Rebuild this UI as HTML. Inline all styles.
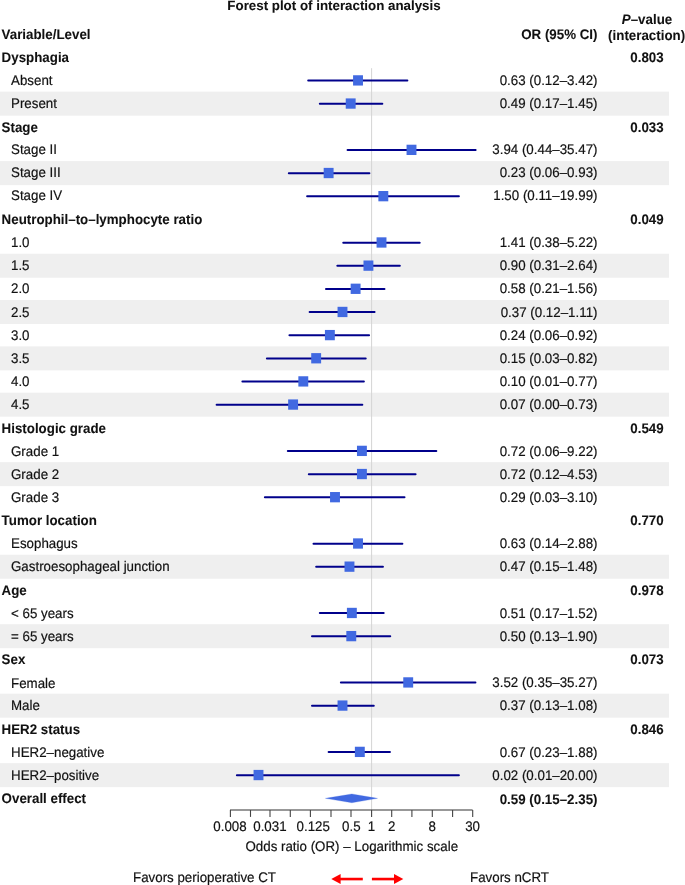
<!DOCTYPE html>
<html><head><meta charset="utf-8"><style>
html,body{margin:0;padding:0;background:#fff;overflow:hidden;}
svg{display:block;will-change:transform;}
text{font-family:"Liberation Sans",sans-serif;font-size:13.33px;fill:#111;text-rendering:geometricPrecision;stroke:#111;stroke-width:0.18px;}
text[font-weight=bold]{stroke-width:0.08px;}
</style></head><body>
<svg width="685" height="885" viewBox="0 0 685 885">
<rect x="0" y="91.65" width="669" height="24.0" fill="#efefef"/>
<rect x="0" y="161.12" width="669" height="24.0" fill="#efefef"/>
<rect x="0" y="253.74" width="669" height="24.0" fill="#efefef"/>
<rect x="0" y="300.05" width="669" height="24.0" fill="#efefef"/>
<rect x="0" y="346.36" width="669" height="24.0" fill="#efefef"/>
<rect x="0" y="392.66" width="669" height="24.0" fill="#efefef"/>
<rect x="0" y="462.13" width="669" height="24.0" fill="#efefef"/>
<rect x="0" y="554.75" width="669" height="24.0" fill="#efefef"/>
<rect x="0" y="624.22" width="669" height="24.0" fill="#efefef"/>
<rect x="0" y="693.68" width="669" height="24.0" fill="#efefef"/>
<rect x="0" y="763.15" width="669" height="24.0" fill="#efefef"/>
<line x1="371.6" y1="68.2" x2="371.6" y2="810" stroke="#d4d4d4" stroke-width="1"/>
<line x1="308.20" y1="80.55" x2="407.37" y2="80.55" stroke="#00008b" stroke-width="2" stroke-linecap="round"/>
<rect x="353.07" y="75.25" width="9.9" height="10.3" fill="#4169e1"/>
<line x1="319.81" y1="103.70" x2="382.34" y2="103.70" stroke="#00008b" stroke-width="2" stroke-linecap="round"/>
<rect x="345.74" y="98.40" width="9.9" height="10.3" fill="#4169e1"/>
<line x1="347.55" y1="150.01" x2="475.60" y2="150.01" stroke="#00008b" stroke-width="2" stroke-linecap="round"/>
<rect x="406.55" y="144.71" width="9.9" height="10.3" fill="#4169e1"/>
<line x1="288.80" y1="173.17" x2="369.38" y2="173.17" stroke="#00008b" stroke-width="2" stroke-linecap="round"/>
<rect x="323.68" y="167.87" width="9.9" height="10.3" fill="#4169e1"/>
<line x1="307.11" y1="196.32" x2="458.87" y2="196.32" stroke="#00008b" stroke-width="2" stroke-linecap="round"/>
<rect x="378.38" y="191.02" width="9.9" height="10.3" fill="#4169e1"/>
<line x1="343.27" y1="242.63" x2="419.71" y2="242.63" stroke="#00008b" stroke-width="2" stroke-linecap="round"/>
<rect x="376.57" y="237.33" width="9.9" height="10.3" fill="#4169e1"/>
<line x1="337.34" y1="265.79" x2="399.82" y2="265.79" stroke="#00008b" stroke-width="2" stroke-linecap="round"/>
<rect x="363.48" y="260.49" width="9.9" height="10.3" fill="#4169e1"/>
<line x1="325.97" y1="288.94" x2="384.47" y2="288.94" stroke="#00008b" stroke-width="2" stroke-linecap="round"/>
<rect x="350.66" y="283.64" width="9.9" height="10.3" fill="#4169e1"/>
<line x1="309.65" y1="312.10" x2="374.54" y2="312.10" stroke="#00008b" stroke-width="2" stroke-linecap="round"/>
<rect x="337.55" y="306.80" width="9.9" height="10.3" fill="#4169e1"/>
<line x1="289.43" y1="335.25" x2="369.07" y2="335.25" stroke="#00008b" stroke-width="2" stroke-linecap="round"/>
<rect x="324.92" y="329.95" width="9.9" height="10.3" fill="#4169e1"/>
<line x1="266.90" y1="358.41" x2="365.71" y2="358.41" stroke="#00008b" stroke-width="2" stroke-linecap="round"/>
<rect x="311.21" y="353.11" width="9.9" height="10.3" fill="#4169e1"/>
<line x1="242.40" y1="381.56" x2="363.88" y2="381.56" stroke="#00008b" stroke-width="2" stroke-linecap="round"/>
<rect x="298.35" y="376.26" width="9.9" height="10.3" fill="#4169e1"/>
<line x1="216.60" y1="404.71" x2="362.32" y2="404.71" stroke="#00008b" stroke-width="2" stroke-linecap="round"/>
<rect x="288.15" y="399.41" width="9.9" height="10.3" fill="#4169e1"/>
<line x1="287.80" y1="451.03" x2="436.30" y2="451.03" stroke="#00008b" stroke-width="2" stroke-linecap="round"/>
<rect x="356.97" y="445.73" width="9.9" height="10.3" fill="#4169e1"/>
<line x1="308.80" y1="474.18" x2="415.57" y2="474.18" stroke="#00008b" stroke-width="2" stroke-linecap="round"/>
<rect x="356.97" y="468.88" width="9.9" height="10.3" fill="#4169e1"/>
<line x1="264.90" y1="497.33" x2="404.50" y2="497.33" stroke="#00008b" stroke-width="2" stroke-linecap="round"/>
<rect x="330.05" y="492.03" width="9.9" height="10.3" fill="#4169e1"/>
<line x1="313.50" y1="543.65" x2="402.36" y2="543.65" stroke="#00008b" stroke-width="2" stroke-linecap="round"/>
<rect x="353.07" y="538.35" width="9.9" height="10.3" fill="#4169e1"/>
<line x1="316.16" y1="566.80" x2="382.94" y2="566.80" stroke="#00008b" stroke-width="2" stroke-linecap="round"/>
<rect x="344.53" y="561.50" width="9.9" height="10.3" fill="#4169e1"/>
<line x1="319.81" y1="613.11" x2="383.71" y2="613.11" stroke="#00008b" stroke-width="2" stroke-linecap="round"/>
<rect x="346.91" y="607.81" width="9.9" height="10.3" fill="#4169e1"/>
<line x1="311.98" y1="636.27" x2="390.22" y2="636.27" stroke="#00008b" stroke-width="2" stroke-linecap="round"/>
<rect x="346.33" y="630.97" width="9.9" height="10.3" fill="#4169e1"/>
<line x1="340.88" y1="682.58" x2="475.44" y2="682.58" stroke="#00008b" stroke-width="2" stroke-linecap="round"/>
<rect x="403.26" y="677.28" width="9.9" height="10.3" fill="#4169e1"/>
<line x1="311.98" y1="705.73" x2="373.75" y2="705.73" stroke="#00008b" stroke-width="2" stroke-linecap="round"/>
<rect x="337.55" y="700.43" width="9.9" height="10.3" fill="#4169e1"/>
<line x1="328.63" y1="752.04" x2="389.92" y2="752.04" stroke="#00008b" stroke-width="2" stroke-linecap="round"/>
<rect x="354.87" y="746.74" width="9.9" height="10.3" fill="#4169e1"/>
<line x1="236.90" y1="775.20" x2="458.89" y2="775.20" stroke="#00008b" stroke-width="2" stroke-linecap="round"/>
<rect x="253.55" y="769.90" width="9.9" height="10.3" fill="#4169e1"/>
<polygon points="325.4,798.35 351.8,793.95 377.5,798.35 351.8,802.75" fill="#4169e1" stroke="#4169e1" stroke-width="0.25" stroke-linejoin="round"/>
<text transform="translate(1.6,62.39) scale(1,1.043)" x="0" y="0" font-weight="bold">Dysphagia</text>
<text transform="translate(647,62.39) scale(1,1.043)" x="0" y="0" font-weight="bold" text-anchor="middle">0.803</text>
<text transform="translate(11,85.05) scale(1,1.043)" x="0" y="0">Absent</text>
<text transform="translate(597.5,85.05) scale(1,1.043)" x="0" y="0" text-anchor="end">0.63 (0.12–3.42)</text>
<text transform="translate(11,108.20) scale(1,1.043)" x="0" y="0">Present</text>
<text transform="translate(597.5,108.20) scale(1,1.043)" x="0" y="0" text-anchor="end">0.49 (0.17–1.45)</text>
<text transform="translate(1.6,131.86) scale(1,1.043)" x="0" y="0" font-weight="bold">Stage</text>
<text transform="translate(647,131.86) scale(1,1.043)" x="0" y="0" font-weight="bold" text-anchor="middle">0.033</text>
<text transform="translate(11,153.61) scale(1,1.043)" x="0" y="0">Stage II</text>
<text transform="translate(597.5,153.61) scale(1,1.043)" x="0" y="0" text-anchor="end">3.94 (0.44–35.47)</text>
<text transform="translate(11,176.77) scale(1,1.043)" x="0" y="0">Stage III</text>
<text transform="translate(597.5,176.77) scale(1,1.043)" x="0" y="0" text-anchor="end">0.23 (0.06–0.93)</text>
<text transform="translate(11,199.92) scale(1,1.043)" x="0" y="0">Stage IV</text>
<text transform="translate(597.5,199.92) scale(1,1.043)" x="0" y="0" text-anchor="end">1.50 (0.11–19.99)</text>
<text transform="translate(1.6,224.48) scale(1,1.043)" x="0" y="0" font-weight="bold">Neutrophil–to–lymphocyte ratio</text>
<text transform="translate(647,224.48) scale(1,1.043)" x="0" y="0" font-weight="bold" text-anchor="middle">0.049</text>
<text transform="translate(11,247.13) scale(1,1.043)" x="0" y="0">1.0</text>
<text transform="translate(597.5,247.13) scale(1,1.043)" x="0" y="0" text-anchor="end">1.41 (0.38–5.22)</text>
<text transform="translate(11,270.29) scale(1,1.043)" x="0" y="0">1.5</text>
<text transform="translate(597.5,270.29) scale(1,1.043)" x="0" y="0" text-anchor="end">0.90 (0.31–2.64)</text>
<text transform="translate(11,293.44) scale(1,1.043)" x="0" y="0">2.0</text>
<text transform="translate(597.5,293.44) scale(1,1.043)" x="0" y="0" text-anchor="end">0.58 (0.21–1.56)</text>
<text transform="translate(11,316.60) scale(1,1.043)" x="0" y="0">2.5</text>
<text transform="translate(597.5,316.60) scale(1,1.043)" x="0" y="0" text-anchor="end">0.37 (0.12–1.11)</text>
<text transform="translate(11,339.75) scale(1,1.043)" x="0" y="0">3.0</text>
<text transform="translate(597.5,339.75) scale(1,1.043)" x="0" y="0" text-anchor="end">0.24 (0.06–0.92)</text>
<text transform="translate(11,362.91) scale(1,1.043)" x="0" y="0">3.5</text>
<text transform="translate(597.5,362.91) scale(1,1.043)" x="0" y="0" text-anchor="end">0.15 (0.03–0.82)</text>
<text transform="translate(11,386.06) scale(1,1.043)" x="0" y="0">4.0</text>
<text transform="translate(597.5,386.06) scale(1,1.043)" x="0" y="0" text-anchor="end">0.10 (0.01–0.77)</text>
<text transform="translate(11,409.21) scale(1,1.043)" x="0" y="0">4.5</text>
<text transform="translate(597.5,409.21) scale(1,1.043)" x="0" y="0" text-anchor="end">0.07 (0.00–0.73)</text>
<text transform="translate(1.6,432.87) scale(1,1.043)" x="0" y="0" font-weight="bold">Histologic grade</text>
<text transform="translate(647,432.87) scale(1,1.043)" x="0" y="0" font-weight="bold" text-anchor="middle">0.549</text>
<text transform="translate(11,455.53) scale(1,1.043)" x="0" y="0">Grade 1</text>
<text transform="translate(597.5,455.53) scale(1,1.043)" x="0" y="0" text-anchor="end">0.72 (0.06–9.22)</text>
<text transform="translate(11,478.68) scale(1,1.043)" x="0" y="0">Grade 2</text>
<text transform="translate(597.5,478.68) scale(1,1.043)" x="0" y="0" text-anchor="end">0.72 (0.12–4.53)</text>
<text transform="translate(11,501.83) scale(1,1.043)" x="0" y="0">Grade 3</text>
<text transform="translate(597.5,501.83) scale(1,1.043)" x="0" y="0" text-anchor="end">0.29 (0.03–3.10)</text>
<text transform="translate(1.6,525.49) scale(1,1.043)" x="0" y="0" font-weight="bold">Tumor location</text>
<text transform="translate(647,525.49) scale(1,1.043)" x="0" y="0" font-weight="bold" text-anchor="middle">0.770</text>
<text transform="translate(11,548.15) scale(1,1.043)" x="0" y="0">Esophagus</text>
<text transform="translate(597.5,548.15) scale(1,1.043)" x="0" y="0" text-anchor="end">0.63 (0.14–2.88)</text>
<text transform="translate(11,571.30) scale(1,1.043)" x="0" y="0">Gastroesophageal junction</text>
<text transform="translate(597.5,571.30) scale(1,1.043)" x="0" y="0" text-anchor="end">0.47 (0.15–1.48)</text>
<text transform="translate(1.6,594.96) scale(1,1.043)" x="0" y="0" font-weight="bold">Age</text>
<text transform="translate(647,594.96) scale(1,1.043)" x="0" y="0" font-weight="bold" text-anchor="middle">0.978</text>
<text transform="translate(11,617.61) scale(1,1.043)" x="0" y="0">&lt; 65 years</text>
<text transform="translate(597.5,617.61) scale(1,1.043)" x="0" y="0" text-anchor="end">0.51 (0.17–1.52)</text>
<text transform="translate(11,640.77) scale(1,1.043)" x="0" y="0">= 65 years</text>
<text transform="translate(597.5,640.77) scale(1,1.043)" x="0" y="0" text-anchor="end">0.50 (0.13–1.90)</text>
<text transform="translate(1.6,664.42) scale(1,1.043)" x="0" y="0" font-weight="bold">Sex</text>
<text transform="translate(647,664.42) scale(1,1.043)" x="0" y="0" font-weight="bold" text-anchor="middle">0.073</text>
<text transform="translate(11,687.88) scale(1,1.043)" x="0" y="0">Female</text>
<text transform="translate(597.5,687.08) scale(1,1.043)" x="0" y="0" text-anchor="end">3.52 (0.35–35.27)</text>
<text transform="translate(11,710.23) scale(1,1.043)" x="0" y="0">Male</text>
<text transform="translate(597.5,710.23) scale(1,1.043)" x="0" y="0" text-anchor="end">0.37 (0.13–1.08)</text>
<text transform="translate(1.6,733.89) scale(1,1.043)" x="0" y="0" font-weight="bold">HER2 status</text>
<text transform="translate(647,733.89) scale(1,1.043)" x="0" y="0" font-weight="bold" text-anchor="middle">0.846</text>
<text transform="translate(11,756.54) scale(1,1.043)" x="0" y="0">HER2–negative</text>
<text transform="translate(597.5,756.54) scale(1,1.043)" x="0" y="0" text-anchor="end">0.67 (0.23–1.88)</text>
<text transform="translate(11,779.70) scale(1,1.043)" x="0" y="0">HER2–positive</text>
<text transform="translate(597.5,779.70) scale(1,1.043)" x="0" y="0" text-anchor="end">0.02 (0.01–20.00)</text>
<text transform="translate(1.6,803.35) scale(1,1.043)" x="0" y="0" font-weight="bold">Overall effect</text>
<text transform="translate(597.5,804.00) scale(1,1.043)" x="0" y="0" font-weight="bold" text-anchor="end">0.59 (0.15–2.35)</text>
<text transform="translate(1.6,39.1) scale(1,1.043)" x="0" y="0" font-weight="bold">Variable/Level</text>
<text transform="translate(597.5,39.0) scale(1,1.043)" x="0" y="0" font-weight="bold" text-anchor="end">OR (95% CI)</text>
<text transform="translate(647,23.8) scale(1,1.043)" x="0" y="0" font-weight="bold" text-anchor="middle"><tspan font-style="italic">P</tspan>–value</text>
<text transform="translate(646.6,40.05) scale(1,1.043)" x="0" y="0" font-weight="bold" text-anchor="middle">(interaction)</text>
<line x1="229.96" y1="810" x2="472.60" y2="810" stroke="#333" stroke-width="1.2"/>
<line x1="230.40" y1="810" x2="230.40" y2="816.9" stroke="#444" stroke-width="1.1"/>
<line x1="250.50" y1="810" x2="250.50" y2="816.9" stroke="#444" stroke-width="1.1"/>
<line x1="270.00" y1="810" x2="270.00" y2="816.9" stroke="#444" stroke-width="1.1"/>
<line x1="290.30" y1="810" x2="290.30" y2="816.9" stroke="#444" stroke-width="1.1"/>
<line x1="310.40" y1="810" x2="310.40" y2="816.9" stroke="#444" stroke-width="1.1"/>
<line x1="331.00" y1="810" x2="331.00" y2="816.9" stroke="#444" stroke-width="1.1"/>
<line x1="351.00" y1="810" x2="351.00" y2="816.9" stroke="#444" stroke-width="1.1"/>
<line x1="371.60" y1="810" x2="371.60" y2="816.9" stroke="#444" stroke-width="1.1"/>
<line x1="391.70" y1="810" x2="391.70" y2="816.9" stroke="#444" stroke-width="1.1"/>
<line x1="411.90" y1="810" x2="411.90" y2="816.9" stroke="#444" stroke-width="1.1"/>
<line x1="432.30" y1="810" x2="432.30" y2="816.9" stroke="#444" stroke-width="1.1"/>
<line x1="452.60" y1="810" x2="452.60" y2="816.9" stroke="#444" stroke-width="1.1"/>
<line x1="472.70" y1="810" x2="472.70" y2="816.9" stroke="#444" stroke-width="1.1"/>
<text transform="translate(229.96,831.1) scale(1,1.043)" x="0" y="0" text-anchor="middle">0.008</text>
<text transform="translate(269.90,831.1) scale(1,1.043)" x="0" y="0" text-anchor="middle">0.031</text>
<text transform="translate(313.24,831.1) scale(1,1.043)" x="0" y="0" text-anchor="middle">0.125</text>
<text transform="translate(351.28,831.1) scale(1,1.043)" x="0" y="0" text-anchor="middle">0.5</text>
<text transform="translate(371.50,831.1) scale(1,1.043)" x="0" y="0" text-anchor="middle">1</text>
<text transform="translate(391.72,831.1) scale(1,1.043)" x="0" y="0" text-anchor="middle">2</text>
<text transform="translate(432.16,831.1) scale(1,1.043)" x="0" y="0" text-anchor="middle">8</text>
<text transform="translate(472.60,831.1) scale(1,1.043)" x="0" y="0" text-anchor="middle">30</text>
<text transform="translate(351.75,850.8) scale(1,1.043)" x="0" y="0" text-anchor="middle">Odds ratio (OR) – Logarithmic scale</text>
<text transform="translate(133,882.1) scale(1,1.043)" x="0" y="0">Favors perioperative CT</text>
<text transform="translate(470,882.1) scale(1,1.043)" x="0" y="0">Favors nCRT</text>
<line x1="340" y1="879.05" x2="362.8" y2="879.05" stroke="#ff0000" stroke-width="2.6"/>
<polygon points="331.3,879.05 340.6,874.10 340.6,884.00" fill="#ff0000"/>
<line x1="371.9" y1="879.05" x2="395" y2="879.05" stroke="#ff0000" stroke-width="2.6"/>
<polygon points="403.3,879.05 394.0,874.10 394.0,884.00" fill="#ff0000"/>
<text x="334" y="9.9" font-weight="bold" text-anchor="middle">Forest plot of interaction analysis</text>
</svg>
</body></html>
